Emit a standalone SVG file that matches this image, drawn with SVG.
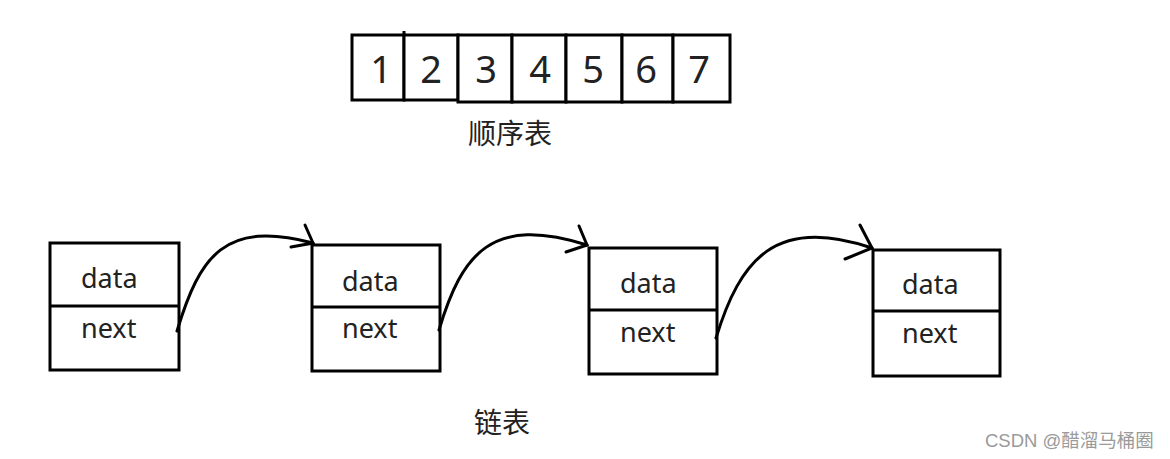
<svg xmlns="http://www.w3.org/2000/svg" width="1170" height="459" viewBox="0 0 1170 459">
<style>
  .box { fill: #ffffff; stroke: #000000; stroke-width: 3; }
  .ln { fill: none; stroke: #000000; stroke-width: 3; }
  .dig { font-family: "Noto Sans", "Liberation Sans", sans-serif; font-size: 38px; fill: #222222; text-anchor: middle; }
  .fld { font-family: "Noto Sans", "Liberation Sans", sans-serif; font-size: 27px; fill: #222222; }
  .cap { font-family: "Noto Sans", "Noto Sans CJK SC", sans-serif; font-size: 28px; fill: #222222; }
  .wm { font-family: "Liberation Sans", "Noto Sans CJK SC", sans-serif; font-size: 18.5px; fill: #9a9a9a; }
  .conn { fill: none; stroke: #000000; stroke-width: 3; stroke-linecap: round; }
</style>
<rect width="1170" height="459" fill="#ffffff"/>

<g id="array">
  <g id="cell1"><rect class="box" x="352" y="35" width="52" height="65"/><text class="dig" x="381" y="83">1</text></g>
  <g id="cell2"><rect class="box" x="404" y="35" width="54" height="65"/><text class="dig" x="431" y="83">2</text></g>
  <g id="cell3"><rect class="box" x="458" y="35" width="54" height="67"/><text class="dig" x="486" y="83">3</text></g>
  <g id="cell4"><rect class="box" x="512" y="35" width="54" height="67"/><text class="dig" x="540" y="83">4</text></g>
  <g id="cell5"><rect class="box" x="566" y="35" width="56" height="67"/><text class="dig" x="593" y="83">5</text></g>
  <g id="cell6"><rect class="box" x="622" y="35" width="51" height="67"/><text class="dig" x="646" y="83">6</text></g>
  <g id="cell7"><rect class="box" x="673" y="35" width="57" height="67"/><text class="dig" x="699" y="83">7</text></g>
  <path class="ln" d="M404,31 L404,35"/>
</g>
<g id="label-array"><text class="cap" x="468" y="144">顺序表</text></g>

<g id="node1">
  <rect class="box" x="50" y="243" width="129" height="127"/>
  <path class="ln" d="M50,306 L179,306"/>
  <text class="fld" x="81" y="288">data</text>
  <text class="fld" x="81" y="338">next</text>
</g>
<g id="node2">
  <rect class="box" x="312" y="245" width="128" height="126"/>
  <path class="ln" d="M312,307 L440,307"/>
  <text class="fld" x="342" y="291">data</text>
  <text class="fld" x="342" y="338">next</text>
</g>
<g id="node3">
  <rect class="box" x="589" y="248" width="128" height="126"/>
  <path class="ln" d="M589,310 L717,310"/>
  <text class="fld" x="620" y="293">data</text>
  <text class="fld" x="620" y="342">next</text>
</g>
<g id="node4">
  <rect class="box" x="873" y="250" width="127" height="126"/>
  <path class="ln" d="M873,311 L1000,311"/>
  <text class="fld" x="902" y="294">data</text>
  <text class="fld" x="902" y="343">next</text>
</g>

<g id="connectors">
  <path class="conn" d="M177,331 C200,255 225,220 313,243"/>
  <path class="conn" d="M291,247 L313,243 L305,225"/>
  <path class="conn" d="M439,330 C462,253 492,215 587,245"/>
  <path class="conn" d="M566,252 L587,245 L579,226"/>
  <path class="conn" d="M716,338 C740,260 775,215 872,248"/>
  <path class="conn" d="M845,259 L872,248 L860,225"/>
</g>

<g id="label-list"><text class="cap" x="474" y="433">链表</text></g>
<text class="wm" x="985" y="447">CSDN @醋溜马桶圈</text>
</svg>
